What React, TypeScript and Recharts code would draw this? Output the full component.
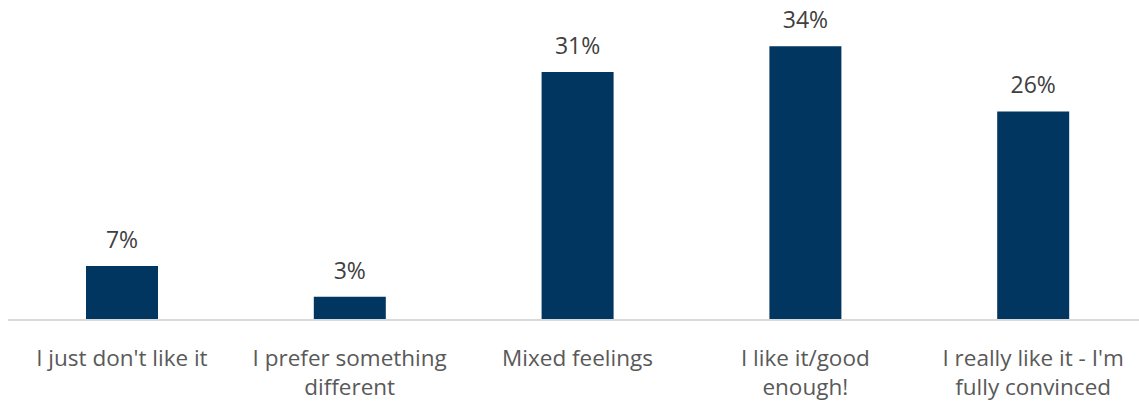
import { Bar, BarChart, LabelList, XAxis, YAxis } from "recharts";

const categories = [
  "I just don't like it",
  "I prefer something\ndifferent",
  "Mixed feelings",
  "I like it/good\nenough!",
  "I really like it - I'm\nfully convinced",
];
const shares = [6.7, 2.9, 30.8, 34.0, 25.9];

const FONT = "'Open Sans', Lato, sans-serif";

const data = categories.map((name, i) => ({ name, value: shares[i] }));

function CategoryTick(props: any) {
  const { x, y, payload } = props;
  const lines = String(payload.value).split("\n");
  return (
    <g transform={`translate(${x},${y})`}>
      {lines.map((line, i) => (
        <text
          key={i}
          x={0}
          y={40 + i * 29}
          textAnchor="middle"
          fill="#595959"
          fontSize={22.5}
          fontFamily={FONT}
        >
          {line}
        </text>
      ))}
    </g>
  );
}

export default function App() {
  return (
    <div
      style={{
        position: "absolute",
        top: 0,
        left: 0,
        width: 1139,
        height: 403,
        overflow: "hidden",
        background: "#fff",
      }}
    >
      <BarChart
        width={1147}
        height={403}
        data={data}
        margin={{ top: 0, right: 0, bottom: 0, left: 8 }}
      >
        <XAxis
          dataKey="name"
          height={83}
          interval={0}
          tickLine={false}
          tickMargin={0}
          axisLine={{ stroke: "#d9d9d9", strokeWidth: 2 }}
          tick={<CategoryTick />}
        />
        <YAxis hide domain={[0, 39.75]} />
        <Bar dataKey="value" fill="#003660" barSize={72} isAnimationActive={false}>
          <LabelList
            dataKey="value"
            position="top"
            offset={18}
            formatter={(v: any) => `${Math.round(Number(v))}%`}
            style={{ fill: "#404040", fontSize: 23, fontFamily: FONT }}
          />
        </Bar>
      </BarChart>
    </div>
  );
}
